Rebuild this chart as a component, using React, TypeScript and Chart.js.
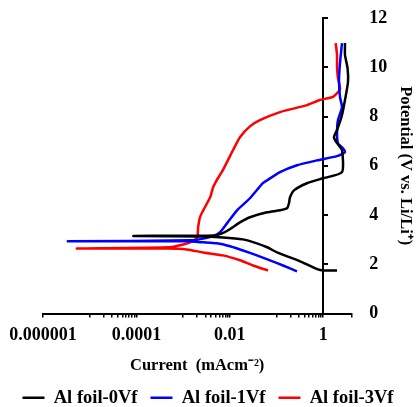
import { useEffect, useRef } from "react";
import { Chart, registerables } from "chart.js";

Chart.register(...registerables);

const seriesLabels = ["Al foil-0Vf", "Al foil-1Vf", "Al foil-3Vf"];
const seriesColors = ["#000000", "#0000ff", "#ff0000"];

// Al foil-0Vf : current (mA cm^-2) and potential (V vs. Li/Li+)
const current0Vf = [1.98, 0.99, 0.77, 0.37, 0.195, 0.103, 0.063, 0.038, 0.019, 0.0071, 0.0023, 0.000086, 0.0048, 0.0068, 0.01, 0.0165, 0.027, 0.063, 0.119, 0.168, 0.185, 0.195, 0.237, 0.45, 0.99, 2.53, 2.53, 1.98, 1.7, 1.98, 2.53, 2.93, 3.4, 3.32, 2.93, 2.93];
const potential0Vf = [1.75, 1.75, 1.79, 2.07, 2.28, 2.48, 2.69, 2.85, 3.01, 3.09, 3.13, 3.15, 3.17, 3.25, 3.42, 3.7, 3.91, 4.11, 4.19, 4.27, 4.48, 4.72, 5.0, 5.29, 5.49, 5.74, 6.63, 6.92, 7.16, 7.45, 8.06, 8.67, 9.4, 9.97, 10.5, 10.98];

// Al foil-1Vf
const current1Vf = [0.275, 0.138, 0.0726, 0.038, 0.0192, 0.0101, 0.0053, 0.0027, 0.0012, 0.0000034, 0.0014, 0.0029, 0.0048, 0.0062, 0.0087, 0.0143, 0.027, 0.051, 0.063, 0.119, 0.275, 0.74, 1.98, 2.93, 2.65, 2.07, 1.98, 2.07, 2.53, 2.29, 2.18, 2.29, 2.53];
const potential1Vf = [1.71, 1.95, 2.16, 2.36, 2.56, 2.73, 2.85, 2.89, 2.93, 2.93, 2.97, 3.05, 3.17, 3.3, 3.66, 4.19, 4.68, 5.29, 5.41, 5.74, 6.02, 6.22, 6.39, 6.55, 6.71, 6.92, 7.32, 7.85, 8.38, 8.79, 9.48, 10.17, 10.98];

// Al foil-3Vf
const current3Vf = [0.066, 0.0314, 0.0165, 0.0071, 0.0027, 0.0012, 0.00045, 0.0000053, 0.00052, 0.00086, 0.0014, 0.002, 0.0021, 0.0023, 0.0027, 0.0038, 0.0044, 0.0051, 0.0071, 0.0117, 0.0165, 0.027, 0.044, 0.119, 0.45, 0.85, 1.62, 2.29, 2.07, 1.98, 1.98, 1.85];
const potential3Vf = [1.75, 1.95, 2.16, 2.36, 2.48, 2.6, 2.64, 2.64, 2.69, 2.77, 2.89, 3.09, 3.5, 3.91, 4.19, 4.72, 5.13, 5.37, 5.82, 6.63, 7.16, 7.6, 7.85, 8.18, 8.46, 8.67, 8.8, 9.1, 9.56, 10.01, 10.5, 10.98];

// axis ticks
const xMajorTicks = [0.000001, 0.0001, 0.01, 1];
const xMajorLabels = ["0.000001", "0.0001", "0.01", "1"];
const xMinorTicks = [
  0.00001, 0.00002, 0.00003, 0.00004, 0.00005, 0.00006, 0.00007, 0.00008, 0.00009,
  0.001, 0.002, 0.003, 0.004, 0.005, 0.006, 0.007, 0.008, 0.009,
  0.1, 0.2, 0.3, 0.4, 0.5, 0.6, 0.7, 0.8, 0.9,
];
const xMin = 0.000001;
const xMax = 4;
const yMin = 0;
const yMax = 12;
const yStep = 2;
const yAxisCrossAt = 1;

const xTitle = "Current  (mAcm\u207B\u00B2)";
const yTitle = "Potential (V vs. Li/Li\u207A)";

const FAMILY = "'Times New Roman', 'Liberation Serif', serif";

function toPoints(xs: number[], ys: number[]) {
  return xs.map((x, i) => ({ x, y: ys[i] }));
}

function sameValue(a: number, b: number) {
  return Math.abs(Math.log10(a) - Math.log10(b)) < 1e-6;
}

export default function App() {
  const canvasRef = useRef<HTMLCanvasElement | null>(null);

  useEffect(() => {
    if (!canvasRef.current) return;
    const tickFont = { family: FAMILY, size: 18, weight: "bold" as const };
    const titleFont = { family: FAMILY, size: 16.5, weight: "bold" as const };
    const allXTicks = [...xMajorTicks, ...xMinorTicks, xMax].sort((a, b) => a - b);

    const seriesX = [current0Vf, current1Vf, current3Vf];
    const seriesY = [potential0Vf, potential1Vf, potential3Vf];

    const chart = new Chart(canvasRef.current, {
      type: "line",
      data: {
        datasets: seriesLabels.map((label, i) => ({
          label,
          data: toPoints(seriesX[i], seriesY[i]),
          borderColor: seriesColors[i],
          backgroundColor: seriesColors[i],
          borderWidth: 2.5,
          pointRadius: 0,
          tension: 0.2,
          fill: false,
          yAxisID: "y",
        })),
      },
      options: {
        responsive: false,
        animation: false,
        layout: { padding: { left: 0, top: 18, right: 0, bottom: -10 } },
        plugins: {
          legend: {
            position: "bottom",
            labels: {
              boxWidth: 22,
              boxHeight: 0,
              padding: 13,
              color: "#000",
              font: { family: FAMILY, size: 18.5, weight: "bold" },
            },
          },
          tooltip: { enabled: false },
        },
        scales: {
          x: {
            type: "logarithmic",
            position: "bottom",
            min: xMin,
            max: xMax,
            afterBuildTicks: (scale: any) => {
              scale.ticks = allXTicks.map((v) => ({ value: v }));
            },
            ticks: {
              autoSkip: false,
              maxRotation: 0,
              minRotation: 0,
              padding: 7,
              color: "#000",
              font: tickFont,
              callback: (value: any) => {
                const v = Number(value);
                const idx = xMajorTicks.findIndex((m) => sameValue(m, v));
                return idx >= 0 ? xMajorLabels[idx] : "";
              },
            },
            grid: {
              display: true,
              drawOnChartArea: false,
              drawTicks: true,
              tickLength: 4,
              color: "#000",
              lineWidth: 1.5,
            },
            border: { display: true, color: "#000", width: 2 },
            title: {
              display: true,
              text: xTitle,
              color: "#000",
              font: titleFont,
              padding: { top: 2.6, bottom: 0 },
            },
          },
          leftSpace: {
            type: "linear",
            axis: "y",
            position: "left",
            display: true,
            ticks: { display: false },
            grid: { display: false, drawTicks: false },
            border: { display: false },
            afterFit: (scale: any) => {
              scale.width = 43;
            },
          },
          y: {
            type: "linear",
            position: "right",
            min: yMin,
            max: yMax,
            ticks: { stepSize: yStep, padding: 18, color: "#000", font: tickFont },
            grid: { display: false, drawTicks: false },
            border: { display: false },
            title: {
              display: true,
              text: yTitle,
              color: "#000",
              font: titleFont,
              padding: { top: 1, bottom: 3 },
            },
            afterFit: (scale: any) => {
              scale.width = 64.7;
              scale.paddingTop = 0;
              scale.paddingBottom = 0;
            },
          },
          yAxisLine: {
            type: "linear",
            axis: "y",
            position: { x: yAxisCrossAt },
            min: yMin,
            max: yMax,
            ticks: { display: false, stepSize: yStep },
            grid: {
              display: true,
              drawOnChartArea: false,
              drawTicks: true,
              tickLength: -6,
              color: "#000",
              lineWidth: 2,
            },
            border: { display: true, color: "#000", width: 2 },
          },
        } as any,
      },
    });
    return () => chart.destroy();
  }, []);

  return (
    <div style={{ position: "fixed", left: 0, top: 0, width: 416, height: 407, background: "#fff" }}>
      <canvas ref={canvasRef} width={416} height={407} style={{ display: "block" }} />
    </div>
  );
}
